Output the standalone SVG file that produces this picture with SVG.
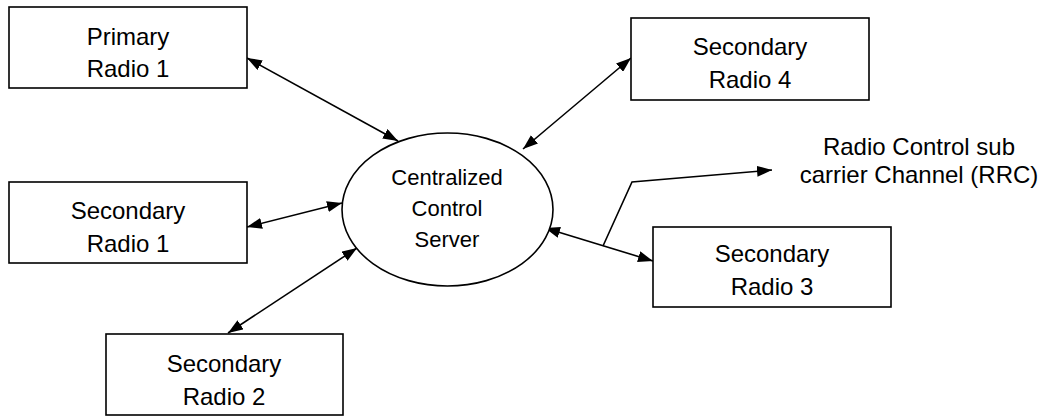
<svg xmlns="http://www.w3.org/2000/svg" width="1042" height="417" viewBox="0 0 1042 417">
<style>
.box{fill:#fff;stroke:#000;stroke-width:1.6}
.t{font-family:"Liberation Sans",Arial,sans-serif;font-size:24px;fill:#000;text-anchor:middle}
.te{font-family:"Liberation Sans",Arial,sans-serif;font-size:22px;fill:#000;text-anchor:middle}
.c{fill:none;stroke:#000;stroke-width:1.6}
</style>
<defs>
<marker id="ah" viewBox="0 0 15 11" refX="15" refY="5.5" markerWidth="15" markerHeight="11" markerUnits="userSpaceOnUse" orient="auto-start-reverse">
<path d="M0,0 L15,5.5 L0,11 z" fill="#000"/>
</marker>
</defs>
<rect width="1042" height="417" fill="#fff"/>
<g id="connectors">
<line class="c" x1="247" y1="58" x2="398" y2="141" marker-start="url(#ah)" marker-end="url(#ah)"/>
<line class="c" x1="631" y1="58" x2="523" y2="149" marker-start="url(#ah)" marker-end="url(#ah)"/>
<line class="c" x1="247" y1="227" x2="342" y2="203" marker-start="url(#ah)" marker-end="url(#ah)"/>
<line class="c" x1="228" y1="333" x2="357" y2="248" marker-start="url(#ah)" marker-end="url(#ah)"/>
<line class="c" x1="545" y1="228" x2="653" y2="261" marker-start="url(#ah)" marker-end="url(#ah)"/>
<polyline class="c" points="603,246 632,182 772,170" marker-end="url(#ah)"/>
</g>
<g id="primary-radio-1">
<rect class="box" x="9" y="7" width="238" height="81"/>
<text class="t" x="128" y="45">Primary</text>
<text class="t" x="128" y="77">Radio 1</text>
</g>
<g id="secondary-radio-4">
<rect class="box" x="631" y="18" width="238" height="82"/>
<text class="t" x="750" y="55">Secondary</text>
<text class="t" x="750" y="88">Radio 4</text>
</g>
<g id="secondary-radio-1">
<rect class="box" x="9" y="182" width="238" height="81"/>
<text class="t" x="128" y="219">Secondary</text>
<text class="t" x="128" y="252">Radio 1</text>
</g>
<g id="secondary-radio-2">
<rect class="box" x="106" y="334" width="237" height="81"/>
<text class="t" x="224" y="372">Secondary</text>
<text class="t" x="224" y="405">Radio 2</text>
</g>
<g id="secondary-radio-3">
<rect class="box" x="653" y="227" width="238" height="80"/>
<text class="t" x="772" y="262">Secondary</text>
<text class="t" x="772" y="295">Radio 3</text>
</g>
<g id="server">
<ellipse class="box" cx="447.5" cy="209.5" rx="105.5" ry="76.5"/>
<text class="te" x="447" y="185">Centralized</text>
<text class="te" x="447" y="216">Control</text>
<text class="te" x="447" y="247">Server</text>
</g>
<g id="rrc-label">
<text class="t" x="919" y="155">Radio Control sub</text>
<text class="t" x="919" y="183">carrier Channel (RRC)</text>
</g>
</svg>
